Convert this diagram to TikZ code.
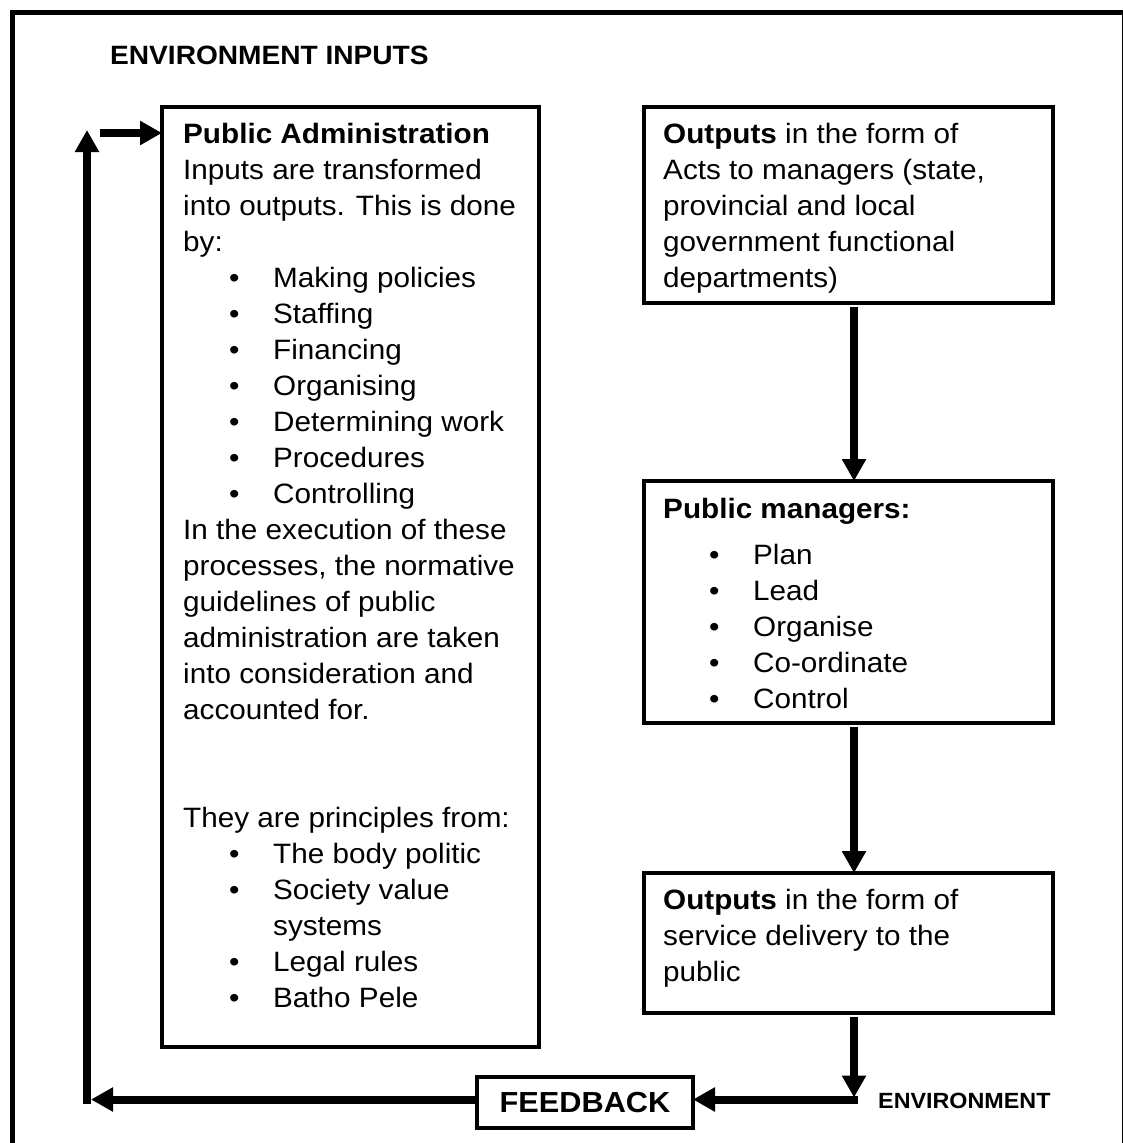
\documentclass[tikz,border=0pt]{standalone}
\usepackage{fontspec}
\setmainfont{Liberation Sans}[FakeStretch=1.06]
\usetikzlibrary{arrows.meta}
% bullet list helpers: bullet centred 51pt in, item text 90pt in
\newcommand\bul[1]{\hspace*{51pt}\makebox[0pt][c]{\textbullet}\hspace*{39pt}#1}
\newcommand\cont[1]{\hspace*{90pt}#1}
\tikzset{
  frame/.style={line width=5pt},
  box/.style={draw, line width=4pt, rectangle, inner sep=0pt, outer sep=0pt},
  flow/.style={line width=8pt, -{Triangle[length=22pt,width=23pt]}},
  body/.style={anchor=base west, inner sep=0pt, font=\fontsize{28}{36}\selectfont},
  label/.style={anchor=base west, inner sep=0pt},
}
\begin{document}
\begin{tikzpicture}[x=1pt,y=-1pt]
\useasboundingbox (0,0) rectangle (1123,1143);
% outer frame (its right edge and bottom run off the page)
\draw[frame] (12.5,12.5) rectangle (1124,1150);

\node[label, font=\bfseries\fontsize{26.5}{30}\selectfont] (envin) at (110,64) {ENVIRONMENT INPUTS};
\node[label, font=\bfseries\fontsize{22}{26}\selectfont] (env) at (878,1108) {ENVIRONMENT};

% boxes
\node[box, minimum width=377pt, minimum height=940pt] (pa) at (350.5,577) {};
\node[box, minimum width=409pt, minimum height=196pt] (acts) at (848.5,205) {};
\node[box, minimum width=409pt, minimum height=242pt] (mgr) at (848.5,602) {};
\node[box, minimum width=409pt, minimum height=140pt] (out2) at (848.5,943) {};
\node[box, minimum width=216pt, minimum height=51pt, font=\bfseries\fontsize{29}{34}\selectfont] (fb) at (585,1102.5) {FEEDBACK};

% box texts
\node[body] (patext) at (183,143) {\parbox[t]{400pt}{\raggedright
\textbf{Public Administration}\\
Inputs are transformed\\
into outputs. This is done\\
by:\\
\bul{Making policies}\\
\bul{Staffing}\\
\bul{Financing}\\
\bul{Organising}\\
\bul{Determining work}\\
\bul{Procedures}\\
\bul{Controlling}\\
In the execution of these\\
processes, the normative\\
guidelines of public\\
administration are taken\\
into consideration and\\
accounted for.\\
\mbox{}\\
\mbox{}\\
They are principles from:\\
\bul{The body politic}\\
\bul{Society value}\\
\cont{systems}\\
\bul{Legal rules}\\
\bul{Batho Pele}}};

\node[body] (actstext) at (663,143) {\parbox[t]{400pt}{\raggedright
\textbf{Outputs} in the form of\\
Acts to managers (state,\\
provincial and local\\
government functional\\
departments)}};

\node[body] (mgrtext) at (663,518) {\parbox[t]{400pt}{\raggedright
\textbf{Public managers:}\\[10pt]
\bul{Plan}\\
\bul{Lead}\\
\bul{Organise}\\
\bul{Co-ordinate}\\
\bul{Control}}};

\node[body] (out2text) at (663,909) {\parbox[t]{400pt}{\raggedright
\textbf{Outputs} in the form of\\
service delivery to the\\
public}};

% connectors
\coordinate (ax) at (854,0);
\coordinate (turn) at (854,1099.5);
\coordinate (back) at (91,1099.5);
\coordinate (up) at (87,1103.5);
\coordinate (uptop) at (87,130);
\coordinate (in) at (100,133);

\draw[flow] ([yshift=-4pt]acts.south -| ax) -- (mgr.north -| ax);
\draw[flow] ([yshift=-4pt]mgr.south -| ax) -- (out2.north -| ax);
\draw[flow] ([yshift=-4pt]out2.south -| ax) -- ([yshift=2pt]turn);
\draw[flow] ([xshift=3.5pt]turn) -- (fb.east |- turn);
\draw[flow] (fb.west |- back) -- (back);
\draw[flow] (up) -- (uptop);
\draw[flow] (in) -- (in -| pa.west);
\end{tikzpicture}
\end{document}
